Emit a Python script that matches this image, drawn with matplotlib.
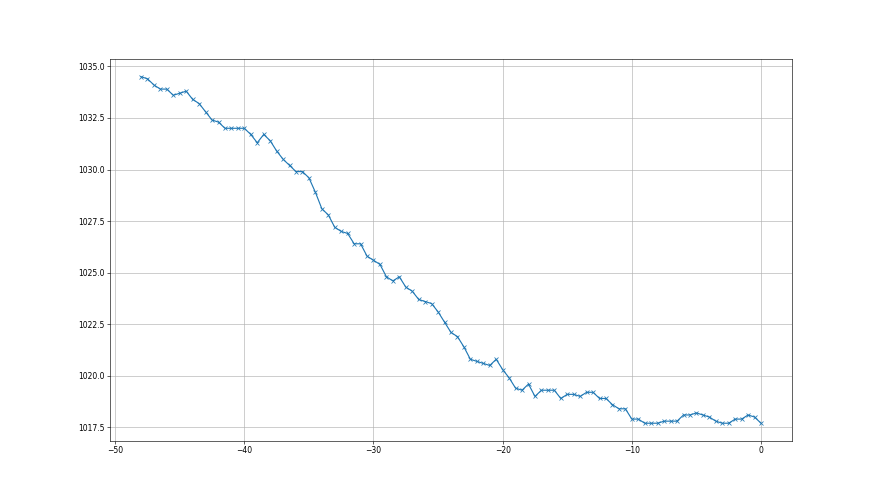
import numpy as np
import matplotlib
matplotlib.use('Agg')
import matplotlib.pyplot as plt

# hours before now, half-hour steps
hours = np.arange(-48, 0.01, 0.5)

pressure = [
    1034.5, 1034.4, 1034.1, 1033.9, 1033.9, 1033.6, 1033.7, 1033.8,
    1033.4, 1033.2, 1032.8, 1032.4, 1032.3, 1032.0, 1032.0, 1032.0,
    1032.0, 1031.7, 1031.3, 1031.7, 1031.4, 1030.9, 1030.5, 1030.2,
    1029.9, 1029.9, 1029.6, 1028.9, 1028.1, 1027.8, 1027.2, 1027.0,
    1026.9, 1026.4, 1026.4, 1025.8, 1025.6, 1025.4, 1024.8, 1024.6,
    1024.8, 1024.3, 1024.1, 1023.7, 1023.6, 1023.5, 1023.1, 1022.6,
    1022.1, 1021.9, 1021.4, 1020.8, 1020.7, 1020.6, 1020.5, 1020.8,
    1020.3, 1019.9, 1019.4, 1019.3, 1019.6, 1019.0, 1019.3, 1019.3,
    1019.3, 1018.9, 1019.1, 1019.1, 1019.0, 1019.2, 1019.2, 1018.9,
    1018.9, 1018.6, 1018.4, 1018.4, 1017.9, 1017.9, 1017.7, 1017.7,
    1017.7, 1017.8, 1017.8, 1017.8, 1018.1, 1018.1, 1018.2, 1018.1,
    1018.0, 1017.8, 1017.7, 1017.7, 1017.9, 1017.9, 1018.1, 1018.0,
    1017.7,
]

fig, ax = plt.subplots(figsize=(16, 9), dpi=55)
ax.plot(hours, pressure, marker='x')
ax.grid(True)
fig.savefig('out.png', dpi=55)
